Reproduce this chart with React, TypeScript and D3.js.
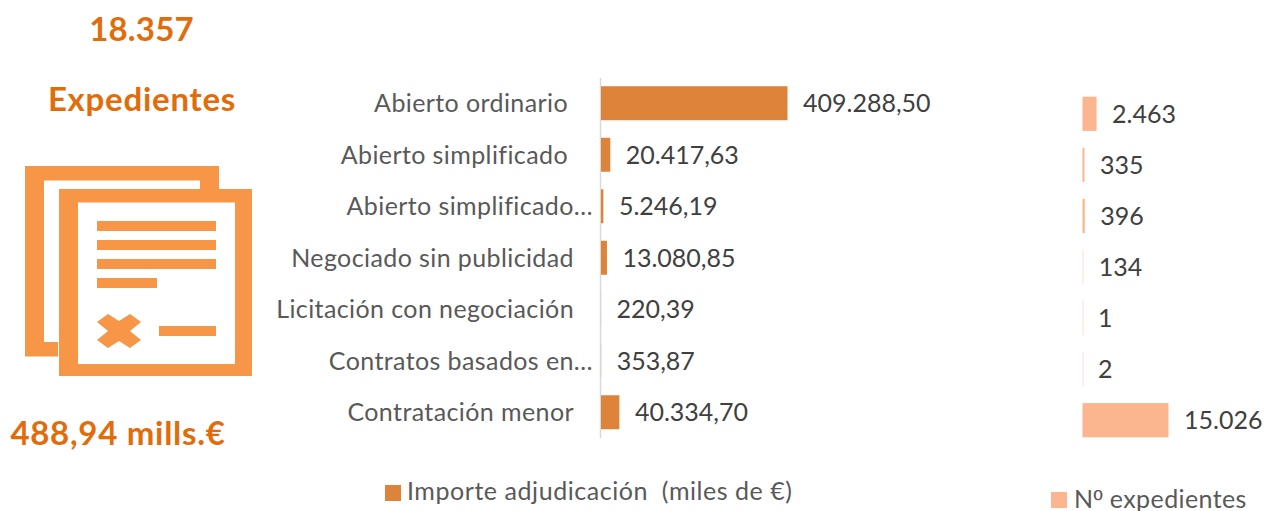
import React from 'react';
import * as d3 from 'd3';

const categories = ['Abierto ordinario', 'Abierto simplificado', 'Abierto simplificado…', 'Negociado sin publicidad', 'Licitación con negociación', 'Contratos basados en…', 'Contratación menor'];
const importe = [409288.5, 20417.63, 5246.19, 13080.85, 220.39, 353.87, 40334.7];
const importeLabels = ['409.288,50', '20.417,63', '5.246,19', '13.080,85', '220,39', '353,87', '40.334,70'];
const expedientes = [2463, 335, 396, 134, 1, 2, 15026];
const expedientesLabels = ['2.463', '335', '396', '134', '1', '2', '15.026'];
const labelRightEdges = [568, 568, 593, 574, 574, 593, 574];

const FONT = 'Lato, sans-serif';
const TITLE = '#E36C0A';
const ICON = '#F79646';
const TEXT = '#404040';
const AXISTEXT = '#595959';

export default function App() {
  const xL = d3.scaleLinear().domain([0, 409288.5]).range([601, 787.5]);
  const xR = d3.scaleLinear().domain([0, 15026]).range([1082.5, 1168.5]);
  const yL = d3.scaleBand<number>().domain(d3.range(7)).range([77.5, 438]).paddingInner(0.34).paddingOuter(0.17);
  const yR = d3.scaleBand<number>().domain(d3.range(7)).range([88, 446]).paddingInner(0.33).paddingOuter(0.17);
  const fs = 25;
  return (
    <svg width={1275} height={511} style={{ position: 'absolute', left: 0, top: 0, background: '#fff' }} fontFamily={FONT}>
      <g fontWeight={700} fontSize={33} fill={TITLE} textAnchor="middle">
        <text x={141.5} y={41} letterSpacing={0.15}>18.357</text>
        <text x={142} y={111} letterSpacing={0.75}>Expedientes</text>
        <text x={118} y={445} letterSpacing={0.7}>488,94 mills.€</text>
      </g>

      <g fill={ICON}>
        <path d="M25 166H219V189H200V180.5H44V342H58V356.5H25Z" />
        <path fillRule="evenodd" d="M59 189H252V376H59ZM78 202.5V364H235V202.5Z" />
        <rect x={97} y={221} width={119} height={10} />
        <rect x={97} y={240} width={119} height={10} />
        <rect x={97} y={259} width={119} height={10} />
        <rect x={97} y={278} width={60} height={10} />
        <rect x={159} y={326} width={57} height={10} />
        <path d="M108 314L119 321L130 314L141 322L130 331L141 340L130 348L119 341L108 348L97 340L108 331L97 322Z" />
      </g>

      <line x1={600.5} x2={600.5} y1={78} y2={438} stroke="#D9D9D9" strokeWidth={1.5} />

      {categories.map((c, i) => {
        const y = yL(i)! + yL.bandwidth() / 2;
        return (
          <g key={c} fontSize={fs}>
            <text x={labelRightEdges[i]} y={y} dy="0.36em" textAnchor="end" fill={AXISTEXT} letterSpacing={0.4}>{c}</text>
            <rect x={xL(0)} y={yL(i)} width={xL(importe[i]) - xL(0)} height={yL.bandwidth()} fill="#DD843A" />
            <text x={xL(importe[i]) + 15.5} y={y} dy="0.36em" fill={TEXT}>{importeLabels[i]}</text>
          </g>
        );
      })}

      {expedientes.map((v, i) => {
        const y = yR(i)! + yR.bandwidth() / 2;
        return (
          <g key={i} fontSize={fs}>
            <rect x={xR(0)} y={yR(i)} width={Math.max(xR(v) - xR(0), 1)} height={yR.bandwidth()} fill="#FBB690" opacity={v < 200 ? 0.4 : 1} />
            <text x={xR(v) + 15.5} y={y} dy="0.36em" fill={TEXT}>{expedientesLabels[i]}</text>
          </g>
        );
      })}

      <g fontSize={fs} fill={AXISTEXT}>
        <rect x={385} y={485} width={16} height={16} fill="#DD843A" />
        <text x={407} y={500} letterSpacing={0.55} style={{ whiteSpace: 'pre' }}>Importe adjudicación  (miles de €)</text>
        <rect x={1051} y={492} width={16} height={16} fill="#FBB690" />
        <text x={1074} y={508} letterSpacing={0.4}>N<tspan fontFamily='"Liberation Sans", sans-serif'>º</tspan> expedientes</text>
      </g>
    </svg>
  );
}
